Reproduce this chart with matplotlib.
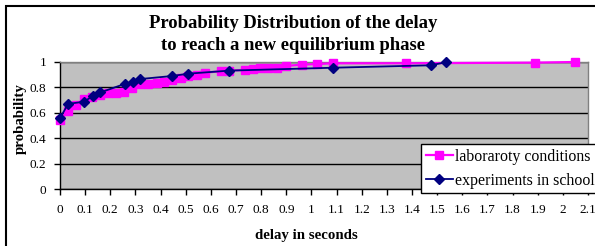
import matplotlib
matplotlib.use("Agg")
import matplotlib.pyplot as plt
from matplotlib.patches import Rectangle

# ---- data ----
lab_x = [0.0, 0.03, 0.062, 0.097, 0.128, 0.159, 0.192, 0.223, 0.256, 0.288, 0.32,
         0.351, 0.384, 0.415, 0.447, 0.48, 0.51, 0.544, 0.575, 0.64, 0.672, 0.735,
         0.769, 0.796, 0.829, 0.862, 0.898, 0.961, 1.023, 1.086, 1.375, 1.889, 2.048]
lab_y = [0.54, 0.614, 0.66, 0.712, 0.725, 0.74, 0.753, 0.758, 0.766, 0.798, 0.824,
         0.827, 0.832, 0.845, 0.862, 0.877, 0.887, 0.898, 0.916, 0.927, 0.932, 0.937,
         0.945, 0.95, 0.953, 0.955, 0.969, 0.979, 0.984, 0.99, 0.99, 0.995, 1.0]
school_x = [0.0, 0.032, 0.094, 0.13, 0.16, 0.257, 0.29, 0.32, 0.447, 0.51, 0.672,
            1.087, 1.474, 1.535]
school_y = [0.557, 0.67, 0.687, 0.73, 0.76, 0.827, 0.84, 0.866, 0.89, 0.908, 0.932,
            0.955, 0.974, 0.998]
x_ticks = [round(0.1 * i, 1) for i in range(22)]
x_tick_labels = ["0" if t == 0 else ("%g" % t) for t in x_ticks]
y_ticks = [0, 0.2, 0.4, 0.6, 0.8, 1.0]
y_tick_labels = ["0", "0.2", "0.4", "0.6", "0.8", "1"]

title = "Probability Distribution of the delay\nto reach a new equilibrium phase"
xlabel = "delay in seconds"
ylabel = "probability"
lab_name = "laboraroty conditions"
school_name = "experiments in school"

W, H = 595, 246
plt.rcParams['font.family'] = ['Liberation Serif', 'DejaVu Serif']
fig = plt.figure(figsize=(W / 100, H / 100), dpi=100)

# outer chart border
fig.patches.append(Rectangle((5.5 / W, -0.1), 1.2, 1 - 5.5 / H + 0.1,
                             transform=fig.transFigure, fill=False,
                             edgecolor='black', lw=1.5))

left, right, top, bottom = 60, 588, 62, 189
ax = fig.add_axes([left / W, (H - bottom) / H, (right - left) / W, (bottom - top) / H])
ax.set_facecolor('#C0C0C0')
ax.set_xlim(0, 2.1)
ax.set_ylim(0, 1)

for s in ['top', 'right']:
    ax.spines[s].set_color('#808080')
    ax.spines[s].set_linewidth(1)
for s in ['left', 'bottom']:
    ax.spines[s].set_color('black')
    ax.spines[s].set_linewidth(1)

ax.set_yticks(y_ticks)
ax.set_yticklabels(y_tick_labels)
ax.set_xticks(x_ticks)
ax.set_xticklabels(x_tick_labels)
ax.tick_params(axis='both', direction='out', length=4, width=1, labelsize=9.5,
               colors='black')
ax.tick_params(axis='y', pad=6)
ax.tick_params(axis='x', pad=7)
ax.yaxis.grid(True, color='black', lw=1)
ax.set_axisbelow(True)

ax.plot(lab_x, lab_y, color='#FF00FF', lw=1.6, marker='s', markersize=6,
        markeredgecolor='#FF00FF', label=lab_name, zorder=3, clip_on=False)
ax.plot(school_x, school_y, color='#000080', lw=1.3, marker='D', markersize=5,
        markeredgecolor='#000080', label=school_name, zorder=4, clip_on=False)

fig.text(293 / W, 1 - 34.5 / H, title, ha='center', va='center', fontsize=13.4,
         fontweight='bold', linespacing=1.38)
fig.text(306 / W, 1 - 235 / H, xlabel, ha='center', va='center', fontsize=10.7,
         fontweight='bold')
fig.text(20 / W, 1 - 119 / H, ylabel, ha='center', va='center', fontsize=10.7,
         fontweight='bold', rotation=90)

leg = fig.legend(loc='upper left', bbox_to_anchor=(421 / W, 1 - 144 / H),
                 fontsize=11.4, frameon=True, fancybox=False, framealpha=1,
                 edgecolor='black', handlelength=1.7, handletextpad=0.15,
                 labelspacing=0.5, borderpad=0.3, borderaxespad=0)
leg.get_frame().set_linewidth(1)

fig.savefig('out.png', dpi=100)
